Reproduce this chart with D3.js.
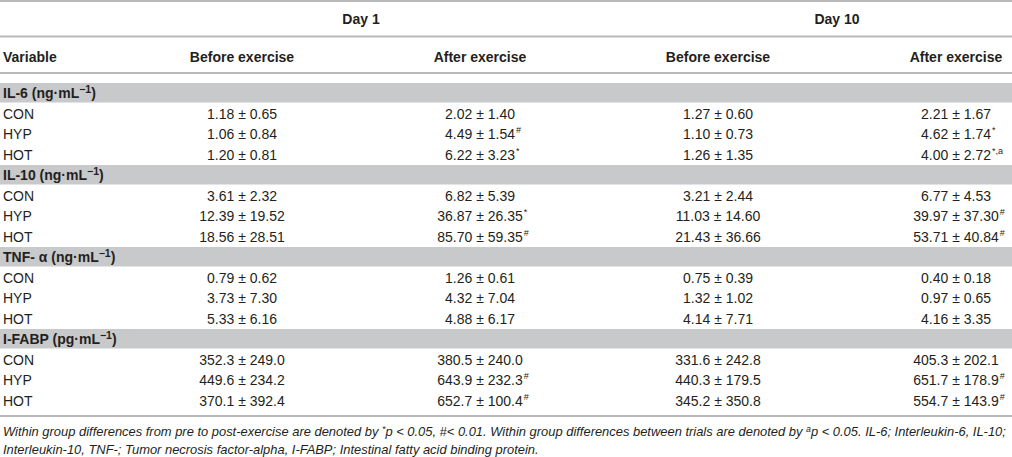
<!DOCTYPE html>
<html>
<head>
<meta charset="utf-8">
<script src="https://cdn.jsdelivr.net/npm/d3@7"></script>
<style>
  html, body { margin: 0; padding: 0; background: #fff; }
  svg { display: block; font-family: "Liberation Sans", Arial, Helvetica, sans-serif; }
</style>
</head>
<body>
<svg id="chart" width="1012" height="457"></svg>
<script>
// ---------- DATA ----------
const days = ["Day 1", "Day 10"];
const columnLabels = ["Before exercise", "After exercise", "Before exercise", "After exercise"];
const firstColumnLabel = "Variable";
const groups = ["CON", "HYP", "HOT"];
const variableNames = ["IL-6", "IL-10", "TNF- α", "I-FABP"];
const variableUnits = ["ng·mL", "ng·mL", "ng·mL", "pg·mL"];
const unitExponent = "−1";
const decimals = [2, 2, 2, 1];

// rows = groups (CON, HYP, HOT); columns = Day1 before, Day1 after, Day10 before, Day10 after
const il6Mean = [[1.18, 2.02, 1.27, 2.21], [1.06, 4.49, 1.10, 4.62], [1.20, 6.22, 1.26, 4.00]];
const il6Sd   = [[0.65, 1.40, 0.60, 1.67], [0.84, 1.54, 0.73, 1.74], [0.81, 3.23, 1.35, 2.72]];
const il6Sig  = [["", "", "", ""], ["", "#", "", "*"], ["", "*", "", "*,a"]];

const il10Mean = [[3.61, 6.82, 3.21, 6.77], [12.39, 36.87, 11.03, 39.97], [18.56, 85.70, 21.43, 53.71]];
const il10Sd   = [[2.32, 5.39, 2.44, 4.53], [19.52, 26.35, 14.60, 37.30], [28.51, 59.35, 36.66, 40.84]];
const il10Sig  = [["", "", "", ""], ["", "*", "", "#"], ["", "#", "", "#"]];

const tnfMean = [[0.79, 1.26, 0.75, 0.40], [3.73, 4.32, 1.32, 0.97], [5.33, 4.88, 4.14, 4.16]];
const tnfSd   = [[0.62, 0.61, 0.39, 0.18], [7.30, 7.04, 1.02, 0.65], [6.16, 6.17, 7.71, 3.35]];
const tnfSig  = [["", "", "", ""], ["", "", "", ""], ["", "", "", ""]];

const ifabpMean = [[352.3, 380.5, 331.6, 405.3], [449.6, 643.9, 440.3, 651.7], [370.1, 652.7, 345.2, 554.7]];
const ifabpSd   = [[249.0, 240.0, 242.8, 202.1], [234.2, 232.3, 179.5, 178.9], [392.4, 100.4, 350.8, 143.9]];
const ifabpSig  = [["", "", "", ""], ["", "#", "", "#"], ["", "#", "", "#"]];

const footnoteLine1 = [
  {t: "Within group differences from pre to post-exercise are denoted by "},
  {t: "*", sup: true},
  {t: "p < 0.05, #< 0.01. Within group differences between trials are denoted by "},
  {t: "a", sup: true},
  {t: "p < 0.05. IL-6; Interleukin-6, IL-10;"}
];
const footnoteLine2 = [
  {t: "Interleukin-10, TNF-; Tumor necrosis factor-alpha, I-FABP; Intestinal fatty acid binding protein."}
];

// ---------- BUILD TABLE ----------
const means = [il6Mean, il10Mean, tnfMean, ifabpMean];
const sds = [il6Sd, il10Sd, tnfSd, ifabpSd];
const sigs = [il6Sig, il10Sig, tnfSig, ifabpSig];

const rows = [];
variableNames.forEach((v, vi) => {
  rows.push({key: "h" + vi, type: "section", name: v, unit: variableUnits[vi]});
  groups.forEach((g, gi) => {
    const fmt = d3.format("." + decimals[vi] + "f");
    rows.push({
      key: "r" + vi + "_" + gi, type: "data", name: g,
      cells: means[vi][gi].map((m, ci) => ({
        text: fmt(m) + " ± " + fmt(sds[vi][gi][ci]),
        sup: sigs[vi][gi][ci], col: ci
      }))
    });
  });
});

const W = 1012;
const textColor = "#231f20";
const lineColor = "#b9b9b9";
const bandColor = "#c8c9cb";

const svg = d3.select("#chart");

const y = d3.scaleBand().domain(rows.map(r => r.key)).range([83, 411]).paddingInner(0);
const x = d3.scaleLinear().domain([0, 3]).range([242, 956]);
const dayX = d3.scaleLinear().domain([0, 1]).range([(x(0) + x(1)) / 2, (x(2) + x(3)) / 2]);

// rules
const rules = [1, 36.5, 73, 416];
svg.selectAll("line.rule").data(rules).join("line")
  .attr("class", "rule")
  .attr("x1", 0).attr("x2", W)
  .attr("y1", d => d).attr("y2", d => d)
  .attr("stroke", lineColor).attr("stroke-width", 2);

// day headers
svg.selectAll("text.day").data(days).join("text")
  .attr("class", "day")
  .attr("x", (d, i) => dayX(i)).attr("y", 24)
  .attr("text-anchor", "middle")
  .attr("font-weight", "bold").attr("font-size", 14).attr("fill", textColor)
  .text(d => d);

// column headers
svg.append("text")
  .attr("x", 3).attr("y", 62)
  .attr("font-weight", "bold").attr("font-size", 14).attr("fill", textColor)
  .text(firstColumnLabel);

svg.selectAll("text.colhead").data(columnLabels).join("text")
  .attr("class", "colhead")
  .attr("x", (d, i) => x(i)).attr("y", 62)
  .attr("text-anchor", "middle")
  .attr("font-weight", "bold").attr("font-size", 14).attr("fill", textColor)
  .text(d => d);

// section bands
const sections = rows.filter(r => r.type === "section");
svg.selectAll("rect.band").data(sections).join("rect")
  .attr("class", "band")
  .attr("x", 0).attr("width", W)
  .attr("y", d => y(d.key)).attr("height", y.bandwidth() - 1)
  .attr("fill", bandColor);

const secText = svg.selectAll("text.sec").data(sections).join("text")
  .attr("class", "sec")
  .attr("x", 3).attr("y", d => y(d.key) + y.bandwidth() / 2 + 5)
  .attr("font-weight", "bold").attr("font-size", 14).attr("fill", textColor);
secText.append("tspan").text(d => d.name + " (" + d.unit);
secText.append("tspan").attr("dy", -5).attr("font-size", 10.5).text(unitExponent);
secText.append("tspan").attr("dy", 5).text(")");

// data rows
const dataRows = rows.filter(r => r.type === "data");
svg.selectAll("text.grp").data(dataRows).join("text")
  .attr("class", "grp")
  .attr("x", 3).attr("y", d => y(d.key) + y.bandwidth() / 2 + 5)
  .attr("font-size", 14).attr("fill", textColor)
  .text(d => d.name);

const rowG = svg.selectAll("g.row").data(dataRows).join("g")
  .attr("class", "row")
  .attr("transform", d => `translate(0,${y(d.key) + y.bandwidth() / 2 + 5})`);

const cellG = rowG.selectAll("g.cell").data(d => d.cells).join("g").attr("class", "cell");
cellG.append("text")
  .attr("class", "val")
  .attr("x", d => x(d.col)).attr("y", 0)
  .attr("text-anchor", "middle")
  .attr("font-size", 14).attr("fill", textColor)
  .text(d => d.text);
cellG.filter(d => d.sup).each(function(d) {
  const g = d3.select(this);
  const w = g.select("text.val").node().getComputedTextLength();
  g.append("text")
    .attr("x", x(d.col) + w / 2 + 1).attr("y", -6)
    .attr("font-size", 9).attr("fill", textColor)
    .text(d.sup);
});

// footnote
function drawLine(parts, yy) {
  const t = svg.append("text")
    .attr("x", 0).attr("y", 0)
    .attr("font-style", "italic").attr("font-size", 12.5).attr("fill", textColor)
    .attr("transform", `translate(3,${yy})`);
  let raised = false;
  parts.forEach(p => {
    const ts = t.append("tspan").text(p.t);
    if (p.sup) {
      ts.attr("dy", -4).attr("font-size", 8.5);
      raised = true;
    } else if (raised) {
      ts.attr("dy", 4);
      raised = false;
    }
  });
  return t;
}
const f1 = drawLine(footnoteLine1, 436);
const f2 = drawLine(footnoteLine2, 454);
const scale = 1004 / f1.node().getComputedTextLength();
f1.attr("transform", `translate(3,436) scale(${scale},1)`);
f2.attr("transform", `translate(3,454) scale(${scale},1)`);
</script>
</body>
</html>
